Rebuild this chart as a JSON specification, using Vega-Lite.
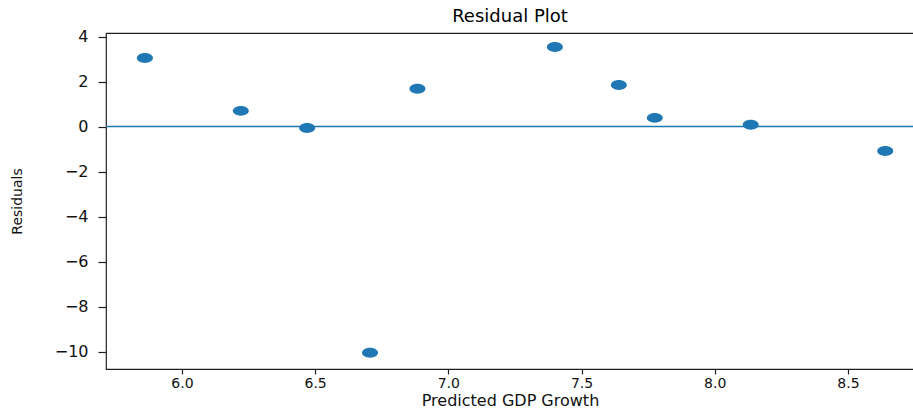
{
  "$schema": "https://vega.github.io/schema/vega-lite/v6.json",
  "autosize": "none",
  "width": 808,
  "height": 336,
  "padding": {"left": 106, "top": 33, "right": 0, "bottom": 40},
  "background": "white",
  "title": {"text": "Residual Plot", "font": "DejaVu Sans", "fontSize": 18, "fontWeight": "normal", "color": "#000", "offset": 3},
  "config": {
    "view": {"stroke": "#222", "strokeWidth": 1.2},
    "axis": {"grid": false, "domain": false, "tickColor": "#222", "tickWidth": 1.2, "labelFont": "DejaVu Sans", "labelColor": "#111", "titleColor": "#111", "titleFontWeight": "normal", "titleFont": "DejaVu Sans"}
  },
  "data": {"values": [
    {"predicted": 5.861, "residual": 3.05},
    {"predicted": 6.221, "residual": 0.70},
    {"predicted": 6.470, "residual": -0.06},
    {"predicted": 6.706, "residual": -10.05},
    {"predicted": 6.884, "residual": 1.68},
    {"predicted": 7.400, "residual": 3.54},
    {"predicted": 7.640, "residual": 1.85},
    {"predicted": 7.775, "residual": 0.39},
    {"predicted": 8.135, "residual": 0.08},
    {"predicted": 8.640, "residual": -1.08}
  ]},
  "layer": [
    {
      "data": {"values": [{"zero": 0}]},
      "mark": {"type": "rule", "color": "#1f77b4", "strokeWidth": 1.5},
      "encoding": {"y": {"field": "zero", "type": "quantitative", "scale": {"domain": [-10.77, 4.16], "nice": false, "zero": false}}}
    },
    {
      "mark": {"type": "point", "filled": true, "opacity": 1, "color": "#1f77b4", "shape": "M-1,0 A1,0.62 0 1,0 1,0 A1,0.62 0 1,0 -1,0 Z", "size": 256},
      "encoding": {
        "x": {"field": "predicted", "type": "quantitative", "title": "Predicted GDP Growth",
              "scale": {"domain": [5.715, 8.748], "nice": false, "zero": false},
              "axis": {"values": [6.0, 6.5, 7.0, 7.5, 8.0, 8.5], "format": ".1f", "tickSize": 5, "labelPadding": 2, "labelFontSize": 14, "titleFontSize": 16, "titlePadding": 2}},
        "y": {"field": "residual", "type": "quantitative", "title": "Residuals",
              "scale": {"domain": [-10.77, 4.16], "nice": false, "zero": false},
              "axis": {"values": [-10, -8, -6, -4, -2, 0, 2, 4], "format": "d", "tickSize": 8, "labelPadding": 10, "labelFontSize": 16, "titleFontSize": 14, "titlePadding": 30}}
      }
    }
  ]
}
